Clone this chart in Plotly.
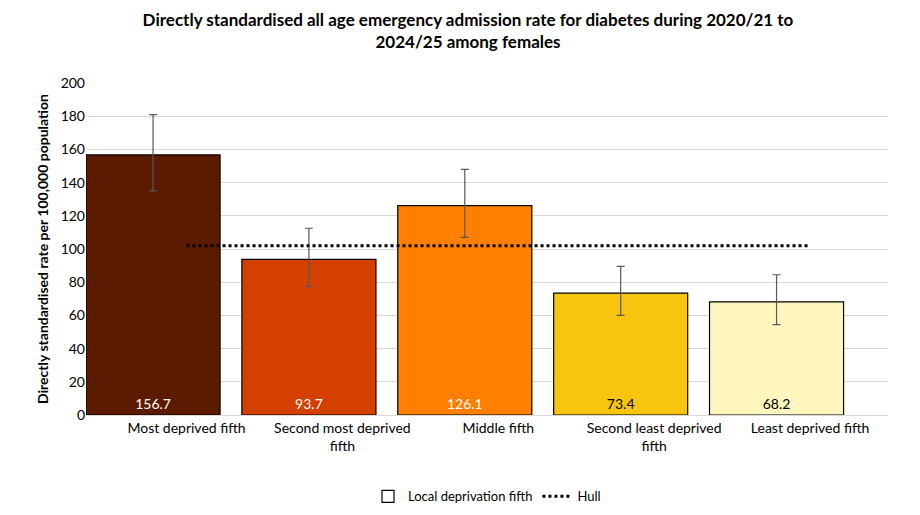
import plotly.graph_objs as go

# data
categories = ["Most deprived fifth", "Second most deprived<br>fifth", "Middle fifth",
              "Second least deprived<br>fifth", "Least deprived fifth"]
rates = [156.7, 93.7, 126.1, 73.4, 68.2]
upper_ci = [181.0, 112.5, 148.0, 89.5, 84.5]
lower_ci = [135.0, 77.5, 107.0, 60.0, 54.5]
hull_rate = [102.0] * 5
bar_colours = ["#5c1a00", "#d44000", "#ff8000", "#f7c50d", "#fff6bf"]
label_colours = ["white", "white", "white", "black", "black"]

fig = go.Figure()

fig.add_trace(go.Bar(
    x=categories, y=rates,
    marker=dict(color=bar_colours, line=dict(color="black", width=1.2)),
    width=0.86,
    text=[f"{v:.1f}" for v in rates],
    textposition="inside", insidetextanchor="start",
    textfont=dict(color=label_colours, size=14),
    error_y=dict(type="data", symmetric=False,
                 array=[u - r for u, r in zip(upper_ci, rates)],
                 arrayminus=[r - l for r, l in zip(rates, lower_ci)],
                 color="#595959", thickness=1.2, width=4),
    showlegend=False,
))

# legend entry for the bars
fig.add_trace(go.Bar(x=[categories[0]], y=[None], name="Local deprivation fifth",
                     marker=dict(color="white", line=dict(color="black", width=1.2))))

fig.add_trace(go.Scatter(x=categories, y=hull_rate, mode="lines", name="Hull",
                         line=dict(color="black", width=3, dash="dot")))

fig.update_layout(
    width=920, height=515,
    paper_bgcolor="white", plot_bgcolor="white",
    font=dict(family="Lato", size=14, color="black"),
    title=dict(text="<b>Directly standardised all age emergency admission rate for diabetes during 2020/21 to<br>2024/25 among females</b>",
               x=0.5, xanchor="center", y=0.965, font=dict(size=17)),
    margin=dict(l=78, r=40, t=75, b=94),
    bargap=0.14,
    legend=dict(orientation="h", x=0.5, xanchor="center", y=-0.2, yanchor="top",
                font=dict(size=13)),
    yaxis=dict(range=[0, 200], dtick=20, showgrid=True, gridcolor="#d9d9d9",
               zeroline=False, showline=False, ticks="",
               title=dict(text="<b>Directly standardised rate per 100,000 population</b>",
                          font=dict(size=14), standoff=8)),
    xaxis=dict(showline=True, linecolor="#d9d9d9", ticks=""),
)

fig.write_html("out.html")
